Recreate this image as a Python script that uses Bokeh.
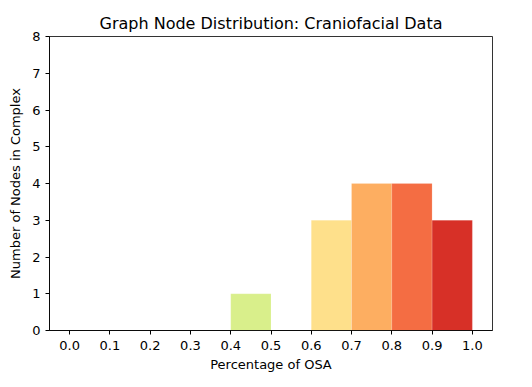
from bokeh.plotting import figure
from bokeh.models import FixedTicker, NumeralTickFormatter, ColumnDataSource
from bokeh.embed import file_html
from bokeh.resources import INLINE

bin_left = [0.4, 0.6, 0.7, 0.8, 0.9]
bin_right = [0.5, 0.7, 0.8, 0.9, 1.0]
counts = [1, 3, 4, 4, 3]
colors = ["#d9ef8b", "#fee08b", "#fdae61", "#f46d43", "#d73027"]
x_ticks = [0.0, 0.1, 0.2, 0.3, 0.4, 0.5, 0.6, 0.7, 0.8, 0.9, 1.0]
y_ticks = [0, 1, 2, 3, 4, 5, 6, 7, 8]

src = ColumnDataSource(dict(left=bin_left, right=bin_right, top=counts,
                            bottom=[0] * len(counts), color=colors))

p = figure(width=516, height=374, output_backend="svg", toolbar_location=None,
           x_range=(-0.05, 1.05), y_range=(0, 8),
           title="Graph Node Distribution: Craniofacial Data",
           min_border_left=49, min_border_right=24, min_border_top=36, min_border_bottom=44)

p.quad(left="left", right="right", top="top", bottom="bottom", fill_color="color",
       line_color="white", line_alpha=0.3, line_width=0.5, source=src)

font = "DejaVu Sans"
p.title.text_font = font
p.title.text_font_size = "16px"
p.title.text_font_style = "normal"
p.title.align = "center"
p.title.text_color = "#000000"
p.title.standoff = 8

p.xgrid.visible = False
p.ygrid.visible = False
p.outline_line_color = "#000000"
p.outline_line_width = 1
p.outline_line_alpha = 0.8

for ax in (p.xaxis[0], p.yaxis[0]):
    ax.major_label_text_font = font
    ax.major_label_text_font_size = "13px"
    ax.major_label_text_color = "#000000"
    ax.axis_label_text_font = font
    ax.axis_label_text_font_size = "13px"
    ax.axis_label_text_font_style = "normal"
    ax.axis_label_text_color = "#000000"
    ax.axis_line_color = "#000000"
    ax.axis_line_alpha = 0.8
    ax.major_tick_line_color = "#000000"
    ax.major_tick_in = 0
    ax.major_tick_out = 4
    ax.minor_tick_line_color = None
    ax.major_label_standoff = 4
    ax.axis_label_standoff = 4

p.xaxis.major_label_standoff = 6
p.yaxis.major_label_standoff = 5
p.yaxis.axis_label_standoff = 6

p.xaxis.ticker = FixedTicker(ticks=x_ticks)
p.xaxis.formatter = NumeralTickFormatter(format="0.0")
p.yaxis.ticker = FixedTicker(ticks=y_ticks)
p.xaxis.axis_label = "Percentage of OSA"
p.yaxis.axis_label = "Number of Nodes in Complex"

open("out.html", "w").write(file_html(p, INLINE))
